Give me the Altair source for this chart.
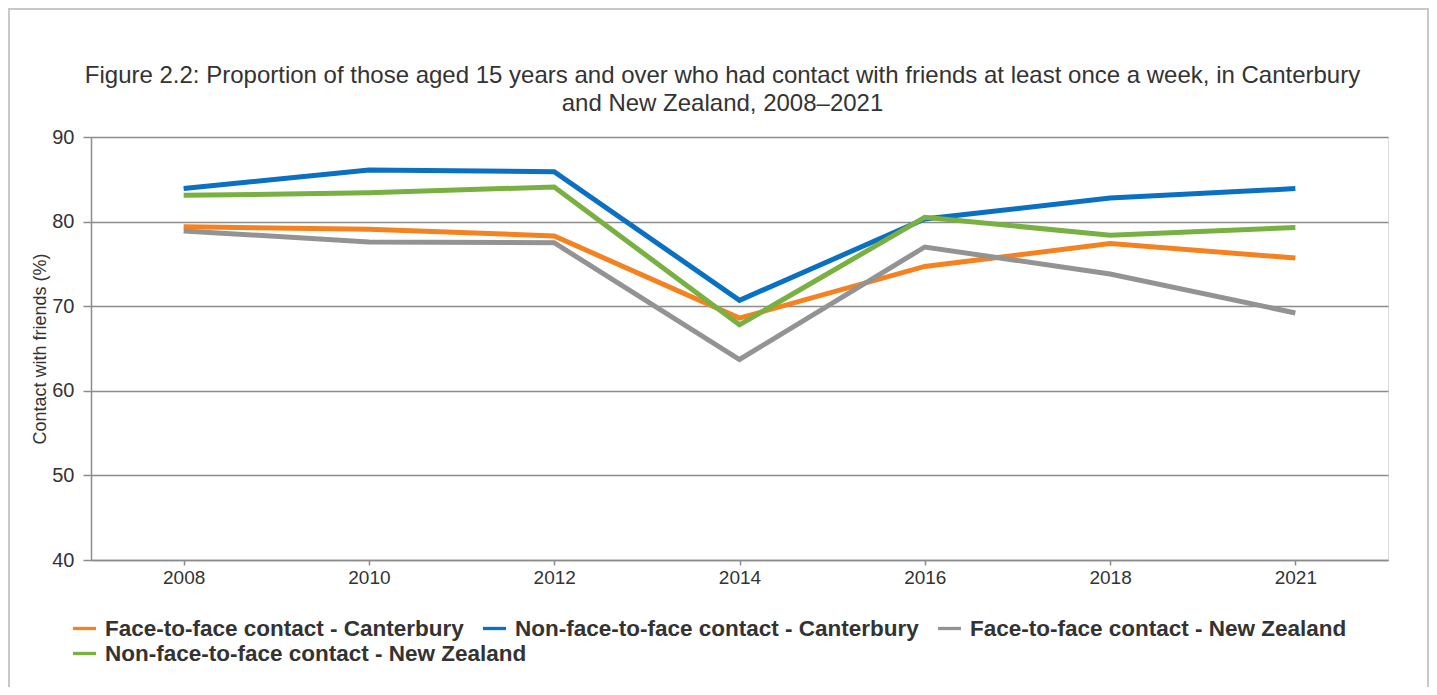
import altair as alt
import pandas as pd

years = ["2008", "2010", "2012", "2014", "2016", "2018", "2021"]
series_names = [
    "Face-to-face contact - Canterbury",
    "Non-face-to-face contact - Canterbury",
    "Face-to-face contact - New Zealand",
    "Non-face-to-face contact - New Zealand",
]
f2f_canterbury = [79.4, 79.1, 78.3, 68.6, 74.7, 77.4, 75.7]
nonf2f_canterbury = [83.9, 86.1, 85.9, 70.7, 80.3, 82.8, 83.9]
f2f_nz = [78.9, 77.6, 77.5, 63.7, 77.0, 73.8, 69.2]
nonf2f_nz = [83.1, 83.4, 84.1, 67.8, 80.5, 78.4, 79.3]
colors = ["#F58220", "#0A70C2", "#939393", "#78B042"]
y_ticks = [40, 50, 60, 70, 80, 90]

rows = []
for name, vals in zip(series_names, [f2f_canterbury, nonf2f_canterbury, f2f_nz, nonf2f_nz]):
    for i, (yr, v) in enumerate(zip(years, vals)):
        rows.append({"year": yr, "value": v, "series": name, "order": i})
df = pd.DataFrame(rows)

FONT = "Liberation Sans"
W, H = 1297, 423

x_enc = alt.X(
    "year:O",
    sort=years,
    scale=alt.Scale(type="point", padding=0.5),
    axis=alt.Axis(
        title=None, labelAngle=0, grid=False, tickSize=5, labelPadding=3,
        labelFontSize=19, labelColor="#333333", labelFont=FONT,
        domainColor="#8c8c8c", domainWidth=1.5, tickColor="#8c8c8c", tickWidth=1.5,
    ),
)
y_enc = alt.Y(
    "value:Q",
    scale=alt.Scale(domain=[40, 90], nice=False, zero=False),
    axis=alt.Axis(
        title="Contact with friends (%)", values=y_ticks, tickSize=8, labelPadding=9,
        labelFontSize=20, labelColor="#333333", labelFont=FONT,
        titleFontSize=18, titleFont=FONT, titleFontWeight="normal", titleColor="#333333",
        titlePadding=2,
        grid=True, gridColor="#8c8c8c", gridWidth=1.5,
        domainColor="#8c8c8c", domainWidth=1.5, tickColor="#8c8c8c", tickWidth=1.5,
    ),
)


def legend(x, y, n):
    return alt.Legend(
        title=None, orient="none", legendX=x, legendY=y, direction="horizontal",
        columns=n, columnPadding=12, rowPadding=2,
        symbolType="stroke", symbolSize=529, symbolStrokeWidth=3.3, labelOffset=7,
        labelFont=FONT, labelFontSize=22.5, labelFontWeight="bold", labelColor="#333333",
        labelLimit=1000,
    )


first = alt.Chart(df[df["series"] != series_names[3]]).mark_line(strokeWidth=5, strokeJoin="miter").encode(
    x=x_enc,
    y=y_enc,
    color=alt.Color(
        "series:N",
        scale=alt.Scale(domain=series_names[:3], range=colors[:3]),
        legend=legend(-20, 478, 3),
    ),
    order=alt.Order("order:Q"),
)

second = alt.Chart(df[df["series"] == series_names[3]]).mark_line(strokeWidth=5, strokeJoin="miter").encode(
    x=x_enc,
    y=y_enc,
    color=alt.Color(
        "series:N",
        scale=alt.Scale(domain=series_names[3:], range=colors[3:]),
        legend=legend(-20, 503, 1),
    ),
    order=alt.Order("order:Q"),
)

frame = alt.Chart(pd.DataFrame({"f": [0]})).mark_rect(
    fill=None, stroke="#c8c8c8", strokeWidth=2
).encode(
    x=alt.value(-82), x2=alt.value(1337), y=alt.value(-128), y2=alt.value(600)
)

chart = alt.layer(frame, first, second).resolve_scale(color="independent").properties(
    width=W,
    height=H,
    title=alt.Title(
        text=[
            "Figure 2.2: Proportion of those aged 15 years and over who had contact with friends at least once a week, in Canterbury",
            "and New Zealand, 2008\u20132021",
        ],
        anchor="middle", frame="group", dx=-17, dy=118, offset=10,
        font=FONT, fontSize=24, fontWeight="normal", color="#333333", lineHeight=28,
    ),
    autosize=alt.AutoSizeParams(type="none"),
    padding={"left": 83, "top": 129, "right": 41, "bottom": 127},
).configure_view(stroke=None).configure(background="white")

chart.save("out.html", embed_options={"renderer": "svg", "actions": False})
